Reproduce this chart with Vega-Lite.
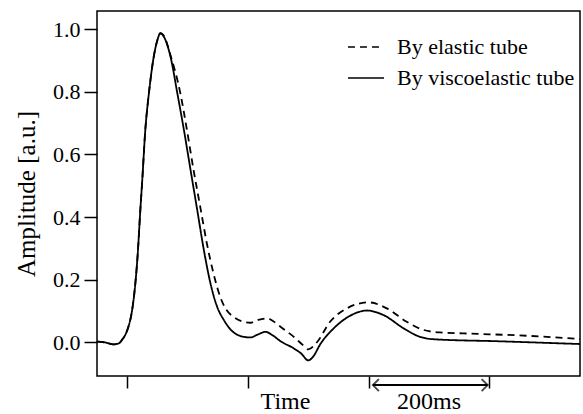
{
  "$schema": "https://vega.github.io/schema/vega-lite/v6.json",
  "width": 483,
  "height": 365,
  "autosize": {"type": "none"},
  "padding": {"left": 97, "top": 11, "right": 3, "bottom": 38},
  "background": "white",
  "config": {
    "view": {"stroke": "black", "strokeWidth": 1.5},
    "font": "Liberation Serif"
  },
  "datasets": {
    "curves": [
      {"t": 150, "amp": 0.003, "series": "By viscoelastic tube"},
      {"t": 164, "amp": 0.0, "series": "By viscoelastic tube"},
      {"t": 177, "amp": -0.006, "series": "By viscoelastic tube"},
      {"t": 186, "amp": -0.003, "series": "By viscoelastic tube"},
      {"t": 192, "amp": 0.01, "series": "By viscoelastic tube"},
      {"t": 197, "amp": 0.025, "series": "By viscoelastic tube"},
      {"t": 202, "amp": 0.05, "series": "By viscoelastic tube"},
      {"t": 207, "amp": 0.09, "series": "By viscoelastic tube"},
      {"t": 212, "amp": 0.16, "series": "By viscoelastic tube"},
      {"t": 217, "amp": 0.27, "series": "By viscoelastic tube"},
      {"t": 222, "amp": 0.43, "series": "By viscoelastic tube"},
      {"t": 225, "amp": 0.519, "series": "By viscoelastic tube"},
      {"t": 230, "amp": 0.678, "series": "By viscoelastic tube"},
      {"t": 236, "amp": 0.796, "series": "By viscoelastic tube"},
      {"t": 244, "amp": 0.912, "series": "By viscoelastic tube"},
      {"t": 250, "amp": 0.965, "series": "By viscoelastic tube"},
      {"t": 255, "amp": 0.987, "series": "By viscoelastic tube"},
      {"t": 261, "amp": 0.975, "series": "By viscoelastic tube"},
      {"t": 272, "amp": 0.91, "series": "By viscoelastic tube"},
      {"t": 283, "amp": 0.796, "series": "By viscoelastic tube"},
      {"t": 294, "amp": 0.678, "series": "By viscoelastic tube"},
      {"t": 305, "amp": 0.55, "series": "By viscoelastic tube"},
      {"t": 316, "amp": 0.423, "series": "By viscoelastic tube"},
      {"t": 327, "amp": 0.295, "series": "By viscoelastic tube"},
      {"t": 338, "amp": 0.188, "series": "By viscoelastic tube"},
      {"t": 349, "amp": 0.114, "series": "By viscoelastic tube"},
      {"t": 360, "amp": 0.072, "series": "By viscoelastic tube"},
      {"t": 371, "amp": 0.042, "series": "By viscoelastic tube"},
      {"t": 387, "amp": 0.021, "series": "By viscoelastic tube"},
      {"t": 404, "amp": 0.016, "series": "By viscoelastic tube"},
      {"t": 417, "amp": 0.026, "series": "By viscoelastic tube"},
      {"t": 429, "amp": 0.034, "series": "By viscoelastic tube"},
      {"t": 440, "amp": 0.024, "series": "By viscoelastic tube"},
      {"t": 454, "amp": 0.004, "series": "By viscoelastic tube"},
      {"t": 476, "amp": -0.019, "series": "By viscoelastic tube"},
      {"t": 488, "amp": -0.035, "series": "By viscoelastic tube"},
      {"t": 500, "amp": -0.057, "series": "By viscoelastic tube"},
      {"t": 508, "amp": -0.045, "series": "By viscoelastic tube"},
      {"t": 520, "amp": -0.005, "series": "By viscoelastic tube"},
      {"t": 542, "amp": 0.045, "series": "By viscoelastic tube"},
      {"t": 569, "amp": 0.085, "series": "By viscoelastic tube"},
      {"t": 597, "amp": 0.102, "series": "By viscoelastic tube"},
      {"t": 625, "amp": 0.087, "series": "By viscoelastic tube"},
      {"t": 658, "amp": 0.045, "series": "By viscoelastic tube"},
      {"t": 685, "amp": 0.018, "series": "By viscoelastic tube"},
      {"t": 710, "amp": 0.01, "series": "By viscoelastic tube"},
      {"t": 813, "amp": 0.004, "series": "By viscoelastic tube"},
      {"t": 950, "amp": -0.005, "series": "By viscoelastic tube"},
      {"t": 150, "amp": 0.003, "series": "By elastic tube"},
      {"t": 164, "amp": 0.0, "series": "By elastic tube"},
      {"t": 177, "amp": -0.006, "series": "By elastic tube"},
      {"t": 186, "amp": -0.003, "series": "By elastic tube"},
      {"t": 192, "amp": 0.01, "series": "By elastic tube"},
      {"t": 197, "amp": 0.025, "series": "By elastic tube"},
      {"t": 202, "amp": 0.05, "series": "By elastic tube"},
      {"t": 207, "amp": 0.09, "series": "By elastic tube"},
      {"t": 212, "amp": 0.16, "series": "By elastic tube"},
      {"t": 217, "amp": 0.27, "series": "By elastic tube"},
      {"t": 222, "amp": 0.43, "series": "By elastic tube"},
      {"t": 225, "amp": 0.519, "series": "By elastic tube"},
      {"t": 230, "amp": 0.678, "series": "By elastic tube"},
      {"t": 236, "amp": 0.796, "series": "By elastic tube"},
      {"t": 244, "amp": 0.912, "series": "By elastic tube"},
      {"t": 250, "amp": 0.965, "series": "By elastic tube"},
      {"t": 255, "amp": 0.987, "series": "By elastic tube"},
      {"t": 261, "amp": 0.978, "series": "By elastic tube"},
      {"t": 272, "amp": 0.915, "series": "By elastic tube"},
      {"t": 288, "amp": 0.796, "series": "By elastic tube"},
      {"t": 299, "amp": 0.678, "series": "By elastic tube"},
      {"t": 310, "amp": 0.55, "series": "By elastic tube"},
      {"t": 321, "amp": 0.433, "series": "By elastic tube"},
      {"t": 332, "amp": 0.316, "series": "By elastic tube"},
      {"t": 343, "amp": 0.22, "series": "By elastic tube"},
      {"t": 354, "amp": 0.146, "series": "By elastic tube"},
      {"t": 364, "amp": 0.105, "series": "By elastic tube"},
      {"t": 376, "amp": 0.082, "series": "By elastic tube"},
      {"t": 393, "amp": 0.066, "series": "By elastic tube"},
      {"t": 404, "amp": 0.063, "series": "By elastic tube"},
      {"t": 417, "amp": 0.072, "series": "By elastic tube"},
      {"t": 432, "amp": 0.077, "series": "By elastic tube"},
      {"t": 442, "amp": 0.068, "series": "By elastic tube"},
      {"t": 454, "amp": 0.05, "series": "By elastic tube"},
      {"t": 476, "amp": 0.018, "series": "By elastic tube"},
      {"t": 492, "amp": -0.01, "series": "By elastic tube"},
      {"t": 500, "amp": -0.022, "series": "By elastic tube"},
      {"t": 514, "amp": 0.0, "series": "By elastic tube"},
      {"t": 536, "amp": 0.066, "series": "By elastic tube"},
      {"t": 564, "amp": 0.109, "series": "By elastic tube"},
      {"t": 600, "amp": 0.128, "series": "By elastic tube"},
      {"t": 630, "amp": 0.109, "series": "By elastic tube"},
      {"t": 663, "amp": 0.066, "series": "By elastic tube"},
      {"t": 691, "amp": 0.04, "series": "By elastic tube"},
      {"t": 718, "amp": 0.032, "series": "By elastic tube"},
      {"t": 757, "amp": 0.029, "series": "By elastic tube"},
      {"t": 867, "amp": 0.021, "series": "By elastic tube"},
      {"t": 950, "amp": 0.011, "series": "By elastic tube"}
    ],
    "arrow": [{"x1": 607, "x2": 797, "y": -0.136}],
    "heads": [
      {"x": 607, "y": -0.136, "dir": "left"},
      {"x": 797, "y": -0.136, "dir": "right"}
    ],
    "label": [{"x": 700, "y": -0.212, "text": "200ms"}]
  },
  "layer": [
    {
      "data": {"name": "curves"},
      "mark": {"type": "line", "interpolate": "monotone", "strokeWidth": 1.8, "color": "black"},
      "encoding": {
        "x": {
          "field": "t", "type": "quantitative",
          "scale": {"domain": [150, 950], "nice": false, "zero": false},
          "axis": {
            "values": [200, 400, 600, 800], "labels": false, "grid": false, "domain": false,
            "ticks": true, "tickSize": 12, "tickWidth": 1.5, "tickColor": "black",
            "title": "Time", "titleFont": "Liberation Serif", "titleFontSize": 24,
            "titleFontWeight": "normal", "titleColor": "black",
            "titleX": 188, "titleY": 32, "titleBaseline": "alphabetic", "titleAlign": "center", "titleAnchor": null
          }
        },
        "y": {
          "field": "amp", "type": "quantitative",
          "scale": {"domain": [-0.107, 1.058], "nice": false, "zero": false},
          "axis": {
            "values": [0, 0.2, 0.4, 0.6, 0.8, 1.0], "format": ".1f", "grid": false, "domain": false,
            "tickSize": 13, "tickWidth": 1.5, "tickColor": "black",
            "labelFont": "Liberation Serif", "labelFontSize": 22, "labelColor": "black", "labelPadding": 4,
            "title": "Amplitude [a.u.]", "titleFont": "Liberation Serif", "titleFontSize": 25,
            "titleFontWeight": "normal", "titleColor": "black", "titlePadding": 13
          }
        },
        "strokeDash": {
          "field": "series", "type": "nominal",
          "scale": {"domain": ["By elastic tube", "By viscoelastic tube"], "range": [[7, 5], [1, 0]]},
          "legend": {
            "orient": "none", "legendX": 250, "legendY": 17, "title": null,
            "labelFont": "Liberation Serif", "labelFontSize": 22, "labelColor": "black", "labelLimit": 400,
            "symbolType": "stroke", "symbolSize": 1300, "symbolStrokeWidth": 1.5,
            "symbolStrokeColor": "black", "labelOffset": 12, "rowPadding": 1
          }
        }
      }
    },
    {
      "data": {"name": "arrow"},
      "mark": {"type": "rule", "strokeWidth": 2, "color": "black"},
      "encoding": {
        "x": {"field": "x1", "type": "quantitative"},
        "x2": {"field": "x2"},
        "y": {"field": "y", "type": "quantitative"}
      }
    },
    {
      "data": {"name": "heads"},
      "mark": {"type": "point", "filled": false, "strokeWidth": 2, "color": "black", "size": 144},
      "encoding": {
        "x": {"field": "x", "type": "quantitative"},
        "y": {"field": "y", "type": "quantitative"},
        "shape": {
          "field": "dir", "type": "nominal",
          "scale": {"domain": ["left", "right"], "range": ["M 1 -1 L 0 0 L 1 1", "M -1 -1 L 0 0 L -1 1"]},
          "legend": null
        }
      }
    },
    {
      "data": {"name": "label"},
      "mark": {"type": "text", "font": "Liberation Serif", "fontSize": 24, "color": "black", "align": "center", "baseline": "alphabetic"},
      "encoding": {
        "x": {"field": "x", "type": "quantitative"},
        "y": {"field": "y", "type": "quantitative"},
        "text": {"field": "text"}
      }
    }
  ]
}
